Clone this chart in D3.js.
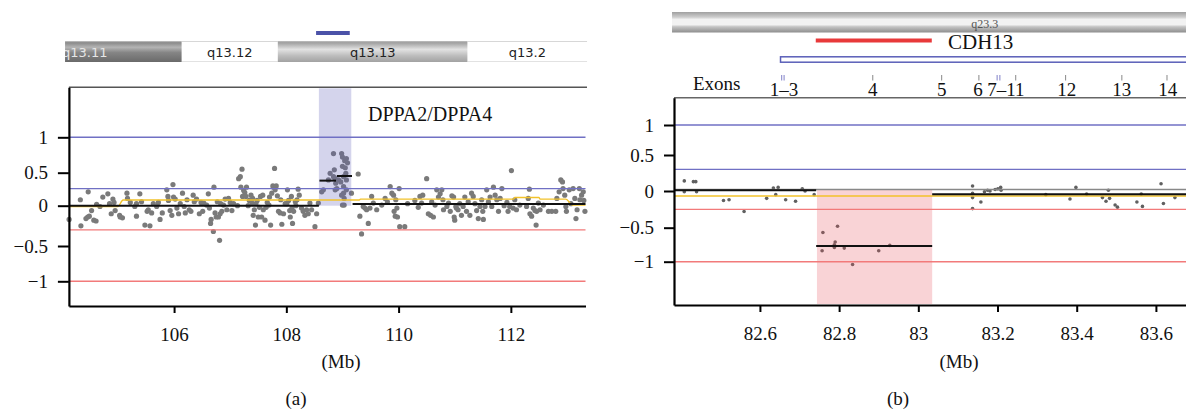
<!DOCTYPE html>
<html><head><meta charset="utf-8">
<script src="https://cdn.jsdelivr.net/npm/d3@7"></script>
<style>
html,body{margin:0;padding:0;background:#fff;}
svg{display:block;}
text{font-family:"Liberation Serif","Times New Roman",serif;}
</style></head>
<body>
<svg id="c" width="1186" height="413"></svg>
<script>
// ---------------- DATA ----------------
// Panel (a): chr region in Mb, log2 ratio values
const aXDomain = [104.126, 113.33];
const aYDomain = [-1.35, 1.706];
const yTicks = [-1, -0.5, 0, 0.5, 1];
const aXTicks = [106, 108, 110, 112];
const aBandEdges = [104.057, 106.137, 107.848, 111.23, 113.36];
const aBandNames = ["q13.11", "q13.12", "q13.13", "q13.2"];
const aBandStains = ["dark", "white", "gray", "white"];
const aGeneLabel = "DPPA2/DPPA4";
const aGeneBar = [108.53, 109.13];
const aShade = [108.58, 109.157];
const aThreshBlue = [1, 0.258];
const aThreshRed = [-0.30, -1];
const aSegments = [[104.126, 108.58, 0], [108.59, 108.885, 0.38], [108.90, 109.17, 0.45], [109.18, 113.33, 0.025]];
const aYellowX = [104.126, 105.0, 105.09, 109.3, 109.32, 112.05, 112.07, 112.5, 112.52, 112.98, 113.1, 113.33];
const aYellowV = [-0.01, -0.01, 0.086, 0.086, 0.1, 0.1, 0.125, 0.125, 0.1, 0.1, 0.01, 0.01];
const aDots = [
[104.13,-0.17],[104.34,-0.25],[104.33,0.09],[104.43,-0.16],
[104.47,0.21],[104.46,-0.14],[104.49,-0.13],[104.53,-0.06],[104.57,-0.18],[104.61,-0.19],[104.62,0.02],[104.68,-0.01],[104.73,0.13],
[104.82,0.18],[104.85,0.03],[104.88,-0.1],[104.91,0.1],[104.93,0.05],[104.95,-0.06],[105.03,-0.12],[105.04,-0.14],
[105.08,-0.15],[105.16,0.19],[105.17,0.11],[105.22,0.05],[105.30,-0.01],[105.33,0.03],[105.33,-0.13],
[105.39,0.18],[105.42,0.06],[105.48,-0.24],[105.52,-0.07],[105.57,-0.25],[105.54,-0.05],[105.6,-0.09],[105.63,0.03],
[105.69,-0.01],[105.72,0.05],[105.75,-0.17],[105.79,-0.09],[105.87,0.24],[105.89,0.14],[105.9,0.08],[105.93,-0.06],
[105.96,-0.12],[105.98,0.32],[105.99,0.13],[106.02,0.1],[106.05,-0.03],[106.08,-0.1],[106.11,0.03],[106.15,0.19],[106.18,-0.01],[106.2,-0.09],
[106.23,0.09],[106.27,-0.05],[106.3,-0.07],[106.34,0.16],[106.36,0.06],[106.4,0.1],[106.45,-0.1],[106.48,0.05],[106.51,-0.07],
[106.53,0.04],[106.58,0.01],[106.61,0.18],[106.63,-0.03],[106.65,-0.22],[106.66,-0.17],[106.7,-0.32],[106.71,0.28],[106.73,-0.09],[106.75,-0.14],[106.77,0.06],[106.79,-0.14],[106.81,-0.43],
[106.82,-0.1],[106.83,0.03],[106.85,-0.07],[106.88,0.01],[106.91,0.1],[106.94,-0.05],[106.97,0.11],[107.0,0.05],[107.03,-0.06],[107.06,0.03],
[107.13,0.0],[107.15,0.41],[107.18,0.44],[107.21,0.55],[107.19,0.28],[107.22,0.14],[107.24,0.23],[107.26,0.2],[107.28,0.14],[107.29,0.28],[107.32,0.0],[107.34,0.08],[107.37,0.16],[107.39,0.04],[107.4,0.11],
[107.41,-0.12],[107.43,-0.05],[107.45,-0.24],[107.46,0.03],[107.48,0.08],[107.5,-0.14],[107.52,-0.02],[107.54,0.14],[107.56,-0.14],[107.58,0.16],[107.59,-0.05],[107.62,-0.18],[107.64,-0.02],[107.66,0.05],[107.69,0.01],[107.7,0.13],
[107.72,-0.24],[107.74,0.19],[107.76,0.3],[107.77,0.28],[107.79,0.56],[107.8,0.24],[107.82,0.3],[107.84,0.15],[107.86,-0.07],[107.89,-0.09],[107.9,0.09],[107.92,-0.23],[107.95,-0.1],[107.98,0.03],
[108.01,0.03],[108.02,0.24],[108.04,0.08],[108.06,-0.06],[108.07,-0.14],[108.09,0.14],[108.1,-0.03],[108.11,-0.22],[108.13,-0.07],[108.16,0.06],[108.17,0.0],[108.19,0.09],[108.21,0.25],[108.23,0.16],
[108.27,-0.03],[108.3,-0.07],[108.33,-0.12],[108.36,-0.05],[108.39,-0.1],[108.42,0.04],[108.45,-0.05],[108.51,-0.26],[108.54,-0.1],[108.57,0.04],[108.63,0.21],[108.66,0.24],
[108.75,0.39],[108.78,0.49],[108.84,0.77],[108.855,0.54],[108.87,0.41],[108.88,0.34],[108.9,0.26],[108.93,0.39],[108.97,0.36],[108.985,0.77],[109.0,0.72],[109.0,0.59],[109.02,0.44],[109.02,0.29],[109.02,0.19],[109.03,0.11],[109.03,0.01],[109.04,0.67],[109.05,0.57],[109.06,0.49],[109.07,0.7],[109.07,0.39],[109.07,0.24],[109.09,0.64],[109.16,0.19],[109.28,0.48],[109.0,0.01],[108.985,0.16],[108.87,0.24],[108.84,0.44],
[109.31,-0.13],[109.34,-0.35],[109.37,-0.01],[109.4,-0.03],[109.43,-0.05],[109.46,-0.22],[109.49,-0.03],[109.52,0.14],[109.55,0.04],[109.61,-0.05],[109.7,0.01],[109.76,0.11],[109.8,0.06],[109.85,0.29],[109.88,0.19],[109.91,0.16],[109.92,-0.07],[109.94,-0.13],[109.95,0.09],[109.97,-0.03],[109.98,-0.14],[110.01,0.26],[110.02,-0.26],[110.11,-0.26],[110.16,0.03],[110.29,0.08],[110.35,-0.02],[110.38,0.14],[110.41,0.04],[110.43,0.16],[110.5,0.41],[110.53,-0.1],[110.57,-0.12],[110.59,0.06],[110.62,-0.14],[110.65,0.01],[110.68,0.24],[110.71,0.13],[110.74,0.18],[110.77,0.24],[110.79,0.09],[110.8,-0.05],[110.86,-0.01],[110.89,0.04],[110.92,-0.07],[110.95,0.15],[110.98,0.13],[110.99,-0.14],[111.0,-0.18],[111.02,-0.01],[111.03,-0.03],[111.06,-0.05],[111.09,0.03],[111.12,-0.12],[111.15,-0.01],[111.18,0.13],[111.21,-0.07],[111.24,0.06],[111.27,-0.12],[111.3,0.19],[111.33,0.14],[111.36,0.03],[111.39,-0.06],[111.42,-0.16],[111.45,-0.01],[111.48,0.09],[111.5,-0.07],[111.51,-0.17],[111.54,-0.01],[111.57,0.24],[111.6,0.06],[111.63,0.13],[111.66,-0.01],[111.69,0.28],[111.72,0.16],[111.75,0.09],[111.78,-0.07],[111.81,0.11],[111.84,0.26],[111.88,0.0],[111.93,0.05],[111.95,-0.07],[111.98,-0.01],[112.01,0.53],[112.04,-0.03],[112.07,0.09],[112.1,-0.05],[112.16,0.01],[112.28,-0.01],[112.31,0.11],[112.33,0.25],[112.34,-0.1],[112.37,-0.13],[112.4,-0.03],[112.43,-0.06],[112.45,-0.24],[112.46,-0.07],[112.49,0.04],[112.52,-0.05],[112.58,0.01],[112.67,-0.07],[112.73,-0.07],[112.8,-0.07],[112.82,0.11],[112.86,0.21],[112.89,0.39],[112.92,0.36],[112.93,0.26],[112.96,0.16],[112.98,-0.01],[112.99,-0.07],[113.04,0.24],[113.07,0.03],[113.11,0.26],[113.14,0.11],[113.16,-0.16],[113.18,-0.05],[113.22,0.26],[113.23,0.09],[113.26,0.16],[113.29,0.21],[113.3,0.08],[113.32,-0.07]
];

// Panel (b)
const bXDomain = [82.383, 83.676];
const bYDomain = [-1.63, 1.455];
const bXTicks = [82.6, 82.8, 83, 83.2, 83.4, 83.6];
const bBandEdges = [82.378, 83.676];
const bBandName = "q23.3";
const bBandLabelAt = 83.168;
const bGeneLabel = "CDH13";
const bDeletionBar = [82.741, 83.034];
const bGeneSpan = [82.652, 83.70];
const bExonTicks = [82.655, 82.661, 82.885, 83.059, 83.153, 83.199, 83.206, 83.246, 83.372, 83.514, 83.628];
const bExonTickKind = ["b","b","g","g","g","b","b","g","g","g","g"];
const bExonLabels = ["1–3", "4", "5", "6", "7–11", "12", "13", "14"];
const bExonLabelAt = [82.661, 82.885, 83.059, 83.151, 83.221, 83.375, 83.514, 83.63];
const bShade = [82.744, 83.035];
const bThreshBlue = [1, 0.30];
const bThreshRed = [-0.25, -1];
const bZeroGray = 0.02;
const bYellow = -0.068;
const bSegments = [[82.383, 82.742, 0.01], [82.742, 83.035, -0.77], [83.035, 83.676, -0.045]];
const bDots = [
[82.409,0.14],[82.409,-0.01],[82.432,0.13],[82.438,0.13],[82.44,-0.01],[82.508,-0.13],[82.522,-0.12],[82.56,-0.28],
[82.617,-0.1],[82.634,0.04],[82.64,-0.05],[82.646,0.05],[82.665,-0.12],[82.69,-0.14],[82.707,0.03],[82.714,0.0],[82.737,-0.05],
[82.757,-0.84],[82.759,-0.57],[82.788,-0.75],[82.79,-0.71],[82.788,-0.79],[82.796,-0.48],[82.813,-0.80],[82.834,-1.04],[82.9,-0.84],[82.928,-0.76],
[83.137,0.07],[83.137,-0.03],[83.137,-0.09],[83.137,-0.24],[83.158,-0.15],[83.167,-0.01],[83.175,0.01],[83.181,0.0],[83.194,0.02],[83.201,0.03],[83.208,0.05],[83.209,0.01],
[83.322,-0.05],[83.383,-0.11],[83.398,0.05],[83.425,-0.04],[83.465,-0.09],[83.474,-0.14],[83.48,0.01],[83.483,-0.10],[83.497,-0.19],[83.503,-0.22],
[83.552,-0.15],[83.563,-0.04],[83.566,-0.21],[83.613,0.10],[83.619,-0.17],[83.648,-0.09]
];

// ---------------- DRAW ----------------
const SERIF = "'Liberation Serif','Times New Roman',serif";
const svg = d3.select("#c");
const defs = svg.append("defs");
function grad(id, stops) {
  const g = defs.append("linearGradient").attr("id", id).attr("x1", 0).attr("y1", 0).attr("x2", 0).attr("y2", 1);
  stops.forEach(s => g.append("stop").attr("offset", s[0]).attr("stop-color", s[1]));
}
grad("gDark", [[0, "#c8c8c8"], [0.08, "#8a8a8a"], [0.3, "#b4b4b4"], [0.55, "#858585"], [1, "#6a6a6a"]]);
grad("gGray", [[0, "#c0c0c0"], [0.08, "#a0a0a0"], [0.4, "#e2e2e2"], [0.7, "#bdbdbd"], [1, "#a2a2a2"]]);
grad("gWhite", [[0, "#bdbdbd"], [0.06, "#ffffff"], [0.94, "#ffffff"], [1, "#cfcfcf"]]);
grad("gB", [[0, "#a0a0a0"], [0.25, "#cdcdcd"], [0.36, "#f2f2f2"], [0.62, "#f2f2f2"], [0.72, "#c4c4c4"], [1, "#8e8e8e"]]);

function fmt(d) { return d === 0 ? "0" : (d < 0 ? "\u2212" + Math.abs(d) : String(d)); }
function styleAxis(ax) {
  ax.attr("font-family", SERIF).attr("font-size", 19);
  ax.select(".domain").attr("stroke", "#000").attr("stroke-width", 2.2);
  ax.selectAll(".tick line").attr("stroke", "#000").attr("stroke-width", 2);
  ax.selectAll("text").attr("font-family", SERIF).attr("font-size", 19).attr("fill", "#111");
}

// ===== Panel A =====
const xA = d3.scaleLinear().domain(aXDomain).range([68.9, 585.5]);
const yA = d3.scaleLinear()
  .domain([aYDomain[0], -1, -0.5, 0, 0.5, 1, aYDomain[1]])
  .range([306, 281.3, 246, 205.7, 172.7, 137.3, 87.3]);

const gA = svg.append("g");
const bandTop = 41, bandH = 21;
const clipA = defs.append("clipPath").attr("id", "clipA");
clipA.append("rect").attr("x", xA(aBandEdges[0])).attr("y", bandTop).attr("width", xA(aBandEdges[aBandEdges.length-1]) - xA(aBandEdges[0])).attr("height", bandH);
const ideoA = gA.append("g").attr("clip-path", "url(#clipA)");
aBandNames.forEach((nm, i) => {
  const x0 = xA(aBandEdges[i]), x1 = xA(aBandEdges[i+1]);
  const fill = aBandStains[i] === "dark" ? "url(#gDark)" : aBandStains[i] === "gray" ? "url(#gGray)" : "url(#gWhite)";
  ideoA.append("rect").attr("x", x0).attr("y", bandTop).attr("width", x1 - x0).attr("height", bandH).attr("fill", fill);
  const t = ideoA.append("text").attr("y", bandTop + 15.5)
    .style("font-family", "'DejaVu Sans',Verdana,sans-serif").style("font-size", "13px")
    .attr("fill", aBandStains[i] === "dark" ? "#e6e6e6" : "#222").text(nm);
  if (i === 0) t.attr("x", x0 - 3).attr("text-anchor", "start");
  else t.attr("x", (x0 + x1) / 2).attr("text-anchor", "middle");
});
gA.append("line").attr("x1", xA(aGeneBar[0])).attr("x2", xA(aGeneBar[1])).attr("y1", 33).attr("y2", 33)
  .attr("stroke", "#4b52a8").attr("stroke-width", 4);

gA.append("line").attr("x1", 68.9).attr("x2", 587).attr("y1", 87.3).attr("y2", 87.3).attr("stroke", "#555").attr("stroke-width", 1.5);

gA.append("g").selectAll("circle").data(aDots).join("circle")
  .attr("cx", d => xA(d[0])).attr("cy", d => yA(d[1])).attr("r", 2.6).attr("fill", "#7a7a7a");
gA.append("rect").attr("x", xA(aShade[0])).attr("width", xA(aShade[1]) - xA(aShade[0]))
  .attr("y", yA(aYDomain[1]) + 1).attr("height", yA(0) - yA(aYDomain[1]) - 1)
  .attr("fill", "#5a5ab4").attr("opacity", 0.26);
aThreshBlue.forEach(v => gA.append("line").attr("x1", 68.9).attr("x2", 585.5).attr("y1", yA(v)).attr("y2", yA(v)).attr("stroke", "#7070c4").attr("stroke-width", 1.4));
aThreshRed.forEach(v => gA.append("line").attr("x1", 68.9).attr("x2", 585.5).attr("y1", yA(v)).attr("y2", yA(v)).attr("stroke", "#f27a7a").attr("stroke-width", 1.4));
gA.append("path").datum(aYellowX.map((x, i) => [x, aYellowV[i]]))
  .attr("d", d3.line().x(d => xA(d[0])).y(d => yA(d[1])).curve(d3.curveMonotoneX))
  .attr("fill", "none").attr("stroke", "#f2c22a").attr("stroke-width", 1.4);
gA.append("g").selectAll("line").data(aSegments).join("line")
  .attr("x1", d => xA(d[0])).attr("x2", d => xA(d[1])).attr("y1", d => yA(d[2])).attr("y2", d => yA(d[2]))
  .attr("stroke", "#111").attr("stroke-width", 2);
gA.append("text").attr("x", 368).attr("y", 121).attr("font-family", SERIF).attr("font-size", 20).attr("fill", "#111").text(aGeneLabel);

const axYA = gA.append("g").attr("transform", "translate(68.9,0)")
  .call(d3.axisLeft(yA).tickValues(yTicks).tickFormat(fmt).tickSize(11).tickSizeOuter(0).tickPadding(10));
const axXA = gA.append("g").attr("transform", "translate(0,306)")
  .call(d3.axisBottom(xA).tickValues(aXTicks).tickFormat(d3.format("d")).tickSize(7).tickSizeOuter(0));
styleAxis(axYA); styleAxis(axXA);
axXA.selectAll(".tick text").attr("dy", null).attr("y", 35);
gA.append("text").attr("x", 341).attr("y", 368).attr("text-anchor", "middle").attr("font-family", SERIF).attr("font-size", 19).attr("fill", "#111").text("(Mb)");
gA.append("text").attr("x", 296).attr("y", 405).attr("text-anchor", "middle").attr("font-family", SERIF).attr("font-size", 19).attr("fill", "#111").text("(a)");

// ===== Panel B =====
const xB = d3.scaleLinear().domain(bXDomain).range([674, 1186]);
const yB = d3.scaleLinear()
  .domain([bYDomain[0], -1, -0.5, 0, 0.5, 1, bYDomain[1]])
  .range([305, 261.7, 227.7, 191, 155, 125, 97.7]);
const gB = svg.append("g");
gB.append("rect").attr("x", xB(bBandEdges[0])).attr("y", 12).attr("width", xB(bBandEdges[1]) - xB(bBandEdges[0])).attr("height", 20.5).attr("fill", "url(#gB)");
gB.append("text").attr("x", xB(bBandLabelAt)).attr("y", 28).attr("text-anchor", "middle")
  .attr("font-family", "'DejaVu Sans Condensed','DejaVu Sans',sans-serif").attr("font-size", 12.5)
  .attr("textLength", 27).attr("lengthAdjust", "spacingAndGlyphs").attr("fill", "#555").text(bBandName);
gB.append("line").attr("x1", xB(bDeletionBar[0])).attr("x2", xB(bDeletionBar[1])).attr("y1", 40.5).attr("y2", 40.5)
  .attr("stroke", "#e8393a").attr("stroke-width", 4);
gB.append("text").attr("x", 948).attr("y", 48.5).attr("font-family", SERIF).attr("font-size", 21).attr("fill", "#111").text(bGeneLabel);
gB.append("rect").attr("x", xB(bGeneSpan[0])).attr("y", 56.8).attr("width", xB(bGeneSpan[1]) - xB(bGeneSpan[0])).attr("height", 5.4)
  .attr("fill", "none").attr("stroke", "#5a5fb8").attr("stroke-width", 1.5);
gB.append("text").attr("x", 693).attr("y", 90).attr("font-family", SERIF).attr("font-size", 19).attr("fill", "#111").text("Exons");
gB.append("g").selectAll("line").data(bExonTicks).join("line")
  .attr("x1", d => xB(d)).attr("x2", d => xB(d)).attr("y1", 75).attr("y2", 80.5)
  .attr("stroke", (d, i) => bExonTickKind[i] === "b" ? "#8080c8" : "#888").attr("stroke-width", 1);
gB.append("g").selectAll("text").data(bExonLabels).join("text")
  .attr("x", (d, i) => xB(bExonLabelAt[i])).attr("y", 96).attr("text-anchor", "middle")
  .attr("font-family", SERIF).attr("font-size", 19).attr("fill", "#111").text(d => d);

gB.append("line").attr("x1", 674).attr("x2", 1186).attr("y1", 97.7).attr("y2", 97.7).attr("stroke", "#666").attr("stroke-width", 1.5);
gB.append("g").selectAll("circle").data(bDots).join("circle")
  .attr("cx", d => xB(d[0])).attr("cy", d => yB(d[1])).attr("r", 1.8).attr("fill", "#606060");
gB.append("rect").attr("x", xB(bShade[0])).attr("width", xB(bShade[1]) - xB(bShade[0]))
  .attr("y", yB(bZeroGray)).attr("height", yB(bYDomain[0]) - yB(bZeroGray) - 1)
  .attr("fill", "#e8505a").attr("opacity", 0.25);
bThreshBlue.forEach(v => gB.append("line").attr("x1", 674).attr("x2", 1186).attr("y1", yB(v)).attr("y2", yB(v)).attr("stroke", "#7070c4").attr("stroke-width", 1.4));
bThreshRed.forEach(v => gB.append("line").attr("x1", 674).attr("x2", 1186).attr("y1", yB(v)).attr("y2", yB(v)).attr("stroke", "#f27a7a").attr("stroke-width", 1.4));
gB.append("line").attr("x1", 674).attr("x2", 1186).attr("y1", yB(bZeroGray)).attr("y2", yB(bZeroGray)).attr("stroke", "#888").attr("stroke-width", 1.4);
gB.append("line").attr("x1", 674).attr("x2", 1186).attr("y1", yB(bYellow)).attr("y2", yB(bYellow)).attr("stroke", "#f2c22a").attr("stroke-width", 1.4);
gB.append("g").selectAll("line").data(bSegments).join("line")
  .attr("x1", d => xB(d[0])).attr("x2", d => xB(d[1])).attr("y1", d => yB(d[2])).attr("y2", d => yB(d[2]))
  .attr("stroke", "#111").attr("stroke-width", 2);

const axYB = gB.append("g").attr("transform", "translate(674,0)")
  .call(d3.axisLeft(yB).tickValues(yTicks).tickFormat(fmt).tickSize(10).tickSizeOuter(0).tickPadding(10));
const axXB = gB.append("g").attr("transform", "translate(0,305)")
  .call(d3.axisBottom(xB).tickValues(bXTicks).tickFormat(d => String(d)).tickSize(7).tickSizeOuter(0));
styleAxis(axYB); styleAxis(axXB);
axXB.selectAll(".tick text").attr("dy", null).attr("y", 35);
gB.append("text").attr("x", 959).attr("y", 368).attr("text-anchor", "middle").attr("font-family", SERIF).attr("font-size", 19).attr("fill", "#111").text("(Mb)");
gB.append("text").attr("x", 898).attr("y", 405).attr("text-anchor", "middle").attr("font-family", SERIF).attr("font-size", 19).attr("fill", "#111").text("(b)");
</script>
</body></html>
